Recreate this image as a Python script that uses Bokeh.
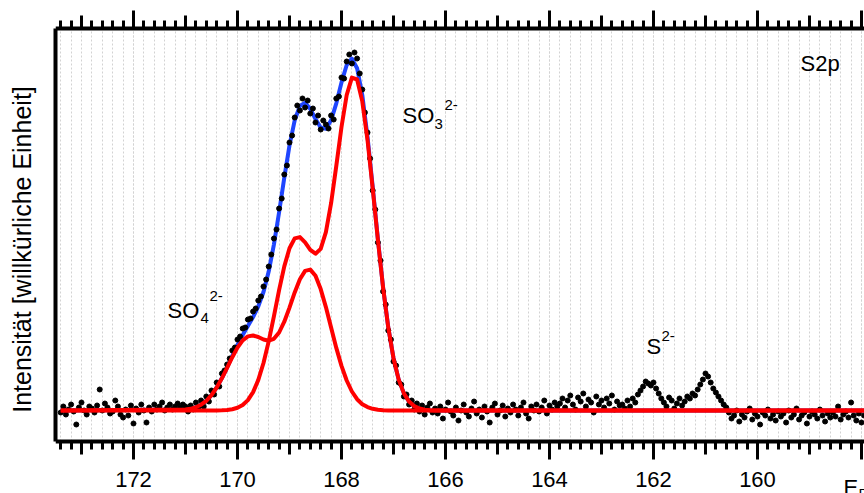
from bokeh.plotting import figure
from bokeh.models import (Range1d, LinearAxis, SingleIntervalTicker, FixedTicker,
                          Grid, Label, ColumnDataSource, BoxAnnotation)
from bokeh.embed import file_html
from bokeh.resources import INLINE

# ---------------- data ----------------
# measured S2p spectrum: binding energy start / step (eV), intensity (arb. units, baseline ~100)
E_START = 173.40
E_STEP = 0.05
counts = [
    98, 104, 96, 101, 106, 99, 86, 103, 108, 100,
    96, 104, 102, 98, 105, 121, 100, 107, 103, 97,
    99, 110, 104, 96, 93, 101, 95, 105, 87, 102,
    98, 106, 100, 88, 103, 99, 106, 101, 104, 108,
    100, 103, 106, 101, 104, 107, 103, 106,
    104, 99, 105, 101, 108, 103, 110, 104, 114, 109,
    120, 116, 128, 124, 137, 140, 146, 152, 160, 163,
    171, 174, 182, 183, 191, 192, 199, 202, 210, 214,
    224, 231, 244, 256, 272, 281, 302, 312, 336, 345,
    368, 375, 393, 405, 400, 412, 403, 410, 397, 402,
    388, 395, 381, 390, 386, 382, 395, 391, 412, 414,
    433, 432, 449, 456, 447, 458, 452, 437, 421, 398,
    378, 352, 320, 301, 268, 250, 219, 206, 180, 171,
    149, 145, 128, 126, 114, 116, 106, 110, 101, 107,
    99, 105, 96, 103, 107, 98, 102,
    97, 104, 92, 101, 108, 99, 95, 103, 90, 100,
    106, 98, 94, 102, 109, 97, 101, 93, 104, 99,
    88, 103, 107, 96, 100, 105, 94, 102, 98, 106,
    101, 95, 103, 108, 97, 92, 104, 100, 106, 99,
    103, 110, 97, 105, 101, 108, 104,
    107, 112, 103, 110, 115, 106, 101, 113, 109, 117,
    104, 111, 108, 98, 114, 106, 110, 103, 112, 107,
    115, 101, 109, 105,
    106, 102, 110, 104, 112, 108, 116,
    120, 124, 129, 127, 125, 128, 122, 117, 112,
    108, 104, 113, 110, 102, 107, 112, 105, 109, 114,
    112, 117, 115, 121, 126, 131, 137, 134, 128, 122, 118,
    114, 110, 106, 103,
    98, 92, 95, 100, 89, 96, 93, 99, 102, 91,
    97, 94, 86, 98, 95, 101, 92, 96, 90, 99,
    94, 97, 88, 100, 93, 96, 102, 91, 95, 98,
    87, 94, 99, 96, 92, 101, 95, 89, 97, 93,
    98, 94, 104, 91, 96, 99, 93, 108, 95, 90,
    97, 88, 95,
]
energy = [round(E_START - E_STEP * i, 2) for i in range(len(counts))]

# fitted curves (doublets) and envelope
fit_energy = [173.4,
              171.0, 170.9, 170.8, 170.7, 170.6, 170.5, 170.4, 170.3, 170.2, 170.1,
              170.0, 169.9, 169.8, 169.7, 169.6, 169.5, 169.4, 169.3, 169.2, 169.1,
              169.0, 168.9, 168.8, 168.7, 168.6, 168.5, 168.4, 168.3, 168.2, 168.1,
              168.0, 167.9, 167.8, 167.7, 167.6, 167.5, 167.4, 167.3, 167.2, 167.1,
              167.0, 166.9, 166.8, 166.7, 166.6, 166.5, 166.4, 166.3, 166.2,
              157.9]
fit_so4 = [100.0,
           100.9, 101.7, 103.3, 105.8, 109.7, 115.4, 123.0, 132.2, 142.7, 153.3,
           162.9, 170.1, 174.1, 175.0, 173.5, 171.0, 169.8, 171.7, 178.0, 188.8,
           202.9, 218.1, 231.2, 239.6, 240.9, 234.7, 221.4, 203.4, 182.9, 162.6,
           144.6, 130.0, 119.0, 111.3, 106.3, 103.4, 101.7, 100.8, 100.3, 100.1,
           100.0, 100.0, 100.0, 100.0, 100.0, 100.0, 100.0, 100.0, 100.0,
           100.0]
fit_so3 = [100.0,
           100.0, 100.0, 100.0, 100.0, 100.0, 100.0, 100.1, 100.2, 100.5, 101.3,
           102.7, 105.5, 110.4, 118.4, 130.6, 147.5, 169.1, 194.2, 220.3, 244.1,
           262.2, 272.1, 273.4, 268.1, 260.7, 256.8, 261.6, 278.4, 307.3, 344.6,
           383.5, 415.5, 432.9, 431.0, 409.1, 370.6, 322.0, 270.6, 222.8, 182.8,
           152.3, 130.9, 117.1, 108.9, 104.3, 102.0, 100.8, 100.3, 100.1,
           100.0]
fit_total = [100.0,
             100.9, 101.7, 103.3, 105.8, 109.7, 115.4, 123.1, 132.4, 143.2, 154.6,
             165.6, 175.6, 184.5, 193.4, 204.1, 218.5, 238.9, 265.9, 298.3, 332.9,
             365.1, 390.2, 404.6, 407.7, 401.6, 391.5, 383.0, 381.8, 390.2, 407.2,
             428.1, 445.5, 451.9, 442.3, 415.4, 374.0, 323.7, 271.4, 223.1, 182.9,
             152.3, 130.9, 117.1, 108.9, 104.3, 102.0, 100.8, 100.3, 100.1,
             100.0]

MID_TICKS = [173, 171, 169, 167, 165, 163, 161, 159]
HIDDEN_LABELS = {158: ""}
Y_LABEL = "Intensität [willkürliche Einheit]"

# plotting box (data units): energy from left to right, intensity bottom/top
X_LEFT, X_RIGHT = 173.5, 157.942
Y_BOT, Y_TOP = 69, 482

FONT = "Liberation Sans"

# ---------------- figure ----------------
p = figure(width=864, height=493, output_backend="svg", toolbar_location=None,
           x_range=Range1d(X_LEFT, X_RIGHT), y_range=Range1d(17, 505),
           x_axis_type=None, y_axis_type=None,
           min_border_left=55, min_border_right=0, min_border_top=5, min_border_bottom=0)
p.outline_line_color = None
p.background_fill_color = "white"
p.border_fill_color = "white"

grid_kw = dict(dimension=0, ticker=SingleIntervalTicker(interval=2, num_minor_ticks=10),
               grid_line_color="#d2d2d2", grid_line_dash="2 2", grid_line_width=1,
               minor_grid_line_color="#d2d2d2", minor_grid_line_dash="2 2", minor_grid_line_width=1)
try:
    grid = Grid(cross_bounds=(Y_BOT, Y_TOP), **grid_kw)
    p.add_layout(grid)
except Exception:
    grid = Grid(level="image", **grid_kw)
    p.add_layout(grid)
    p.add_layout(BoxAnnotation(bottom=Y_TOP, fill_color="white", fill_alpha=1,
                               line_color=None, level="underlay"))
    p.add_layout(BoxAnnotation(top=Y_BOT, fill_color="white", fill_alpha=1,
                               line_color=None, level="underlay"))

def x_axis(fixed, labels):
    return LinearAxis(ticker=SingleIntervalTicker(interval=2, num_minor_ticks=10),
                      fixed_location=fixed,
                      axis_line_width=4, axis_line_color="black",
                      major_tick_in=0, major_tick_out=18, major_tick_line_width=3,
                      minor_tick_in=0, minor_tick_out=8, minor_tick_line_width=3,
                      major_label_standoff=12, major_label_overrides=HIDDEN_LABELS,
                      major_label_text_font=FONT, major_label_text_font_size="22px",
                      major_label_text_color="black" if labels else None)

def mid_axis(fixed):
    return LinearAxis(ticker=FixedTicker(ticks=MID_TICKS, minor_ticks=[]),
                      fixed_location=fixed, axis_line_color=None,
                      major_tick_in=0, major_tick_out=13, major_tick_line_width=3,
                      minor_tick_line_color=None, major_label_text_color=None)

p.add_layout(x_axis(Y_BOT, True), "below")
p.add_layout(mid_axis(Y_BOT), "below")
p.add_layout(x_axis(Y_TOP, False), "above")
p.add_layout(mid_axis(Y_TOP), "above")

yax = LinearAxis(ticker=FixedTicker(ticks=[]), bounds=(Y_BOT, Y_TOP),
                 axis_line_width=4, axis_line_color="black",
                 major_tick_out=0, major_tick_in=0, minor_tick_out=0, minor_tick_in=0,
                 major_label_text_color=None,
                 axis_label=Y_LABEL, axis_label_text_font=FONT,
                 axis_label_text_font_size="25px", axis_label_text_font_style="normal",
                 axis_label_text_color="black", axis_label_standoff=20)
p.add_layout(yax, "left")

fit_src = ColumnDataSource(dict(e=fit_energy, so4=fit_so4, so3=fit_so3, tot=fit_total))
p.line("e", "tot", source=fit_src, line_color="#1f45ff", line_width=4, line_join="round")
p.scatter(energy, counts, size=5, color="black")
p.line("e", "so4", source=fit_src, line_color="#ff0000", line_width=4, line_join="round")
p.line("e", "so3", source=fit_src, line_color="#ff0000", line_width=4, line_join="round")

def lab(x, y, t, size):
    p.add_layout(Label(x=x, y=y, text=t, text_font=FONT, text_font_size=size,
                       text_color="black", text_baseline="alphabetic", text_align="left"))

lab(171.346, 200, "SO", "22px"); lab(170.712, 193, "4", "15px"); lab(170.538, 215, "2-", "15px")
lab(166.827, 395, "SO", "22px"); lab(166.212, 387, "3", "15px"); lab(166.019, 406, "2-", "15px")
lab(162.135, 164, "S", "22px"); lab(161.846, 175, "2-", "15px")
lab(159.173, 447, "S2p", "22px")
lab(158.346, 23, "E", "22px"); lab(158.058, 17, "B", "15px")

open("out.html", "w").write(file_html(p, INLINE))
